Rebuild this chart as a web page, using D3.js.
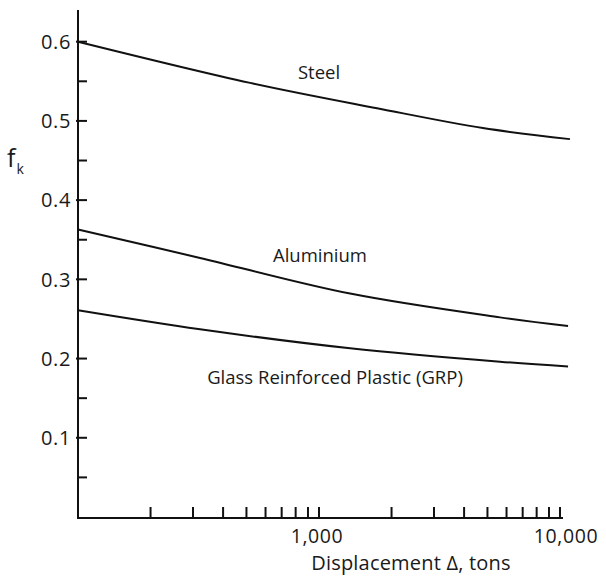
<!DOCTYPE html>
<html>
<head>
<meta charset="utf-8">
<script src="https://cdn.jsdelivr.net/npm/d3@7"></script>
<style>
  body { margin: 0; background: #fff; }
  text, tspan { font-family: "Open Sans", sans-serif; fill: #1a1a1a; }
</style>
</head>
<body>
<div id="chart"></div>
<script>
// displacement (tons)
let steelX = [100, 518, 1741, 4786, 11000];
let steelY = [0.600, 0.548, 0.516, 0.491, 0.477];
let aluX = [100, 321, 1346, 5637, 10800];
let aluY = [0.363, 0.327, 0.282, 0.252, 0.241];
let grpX = [100, 321, 1346, 5637, 10800];
let grpY = [0.261, 0.237, 0.213, 0.196, 0.190];

let yMajor = [0.1, 0.2, 0.3, 0.4, 0.5, 0.6];
let yMinor = [0.05, 0.15, 0.35, 0.45, 0.55];
let xMinor = [200, 300, 400, 500, 600, 700, 800, 900, 1000,
              2000, 3000, 4000, 5000, 6000, 7000, 8000, 9000, 10000];
let xLabels = [1000, 10000];

let width = 606, height = 582;
let svg = d3.select("#chart").append("svg")
    .attr("width", width)
    .attr("height", height);

let x = d3.scaleLog().domain([100, 10000]).range([78, 560]);
let y = d3.scaleLinear().domain([0, 0.64]).range([517, 10]);

//axes lines
svg.append("line")
    .attr("x1", x(100)).attr("x2", x(100))
    .attr("y1", y(0.64)).attr("y2", y(0) + 2)
    .attr("stroke", "#111").attr("stroke-width", 2);
svg.append("line")
    .attr("x1", x(100) - 1).attr("x2", x(10000) + 3)
    .attr("y1", y(0) + 1).attr("y2", y(0) + 1)
    .attr("stroke", "#111").attr("stroke-width", 2);

//y ticks
svg.selectAll(".ymaj").data(yMajor).enter().append("line")
    .attr("x1", x(100) - 2).attr("x2", x(100) + 9)
    .attr("y1", d => y(d)).attr("y2", d => y(d))
    .attr("stroke", "#111").attr("stroke-width", 2);
svg.selectAll(".ymin").data(yMinor).enter().append("line")
    .attr("x1", x(100)).attr("x2", x(100) + 9)
    .attr("y1", d => y(d)).attr("y2", d => y(d))
    .attr("stroke", "#111").attr("stroke-width", 2);
svg.selectAll(".ylab").data(yMajor).enter().append("text")
    .attr("x", x(100) - 7)
    .attr("y", d => y(d))
    .attr("dy", "0.36em")
    .attr("text-anchor", "end")
    .attr("font-size", 20)
    .attr("letter-spacing", 0.6)
    .text(d => d.toFixed(1));

//x ticks pointing up
svg.selectAll(".xmin").data(xMinor).enter().append("line")
    .attr("x1", d => x(d)).attr("x2", d => x(d))
    .attr("y1", y(0) + 1).attr("y2", y(0) - 10)
    .attr("stroke", "#111").attr("stroke-width", 2);
svg.selectAll(".xlab").data(xLabels).enter().append("text")
    .attr("x", (d, i) => x(d) + (i == 1 ? 6 : -2))
    .attr("y", 543)
    .attr("text-anchor", "middle")
    .attr("font-size", 19.5)
    .attr("letter-spacing", 0.6)
    .text(d => d3.format(",")(d));

//axis titles
svg.append("text")
    .attr("x", 411).attr("y", 570)
    .attr("text-anchor", "middle")
    .attr("font-size", 20)
    .attr("letter-spacing", 0.2)
    .text("Displacement \u0394, tons");

let fk = svg.append("text").attr("x", 7).attr("y", 167).attr("font-size", 25);
fk.append("tspan").text("f");
fk.append("tspan").attr("font-size", 14).attr("dy", 7).attr("dx", 1).text("k");

//curves
let line = d3.line()
    .x(d => x(d[0]))
    .y(d => y(d[1]))
    .curve(d3.curveCatmullRom.alpha(0.5));

let series = [
    {name: "Steel", xs: steelX, ys: steelY, lx: 319, ly: 79},
    {name: "Aluminium", xs: aluX, ys: aluY, lx: 320, ly: 262},
    {name: "Glass Reinforced Plastic (GRP)", xs: grpX, ys: grpY, lx: 335, ly: 384}
];

series.forEach(s => {
    svg.append("path")
        .datum(d3.zip(s.xs, s.ys))
        .attr("d", line)
        .attr("fill", "none")
        .attr("stroke", "#111")
        .attr("stroke-width", 2);
    svg.append("text")
        .attr("x", s.lx).attr("y", s.ly)
        .attr("text-anchor", "middle")
        .attr("font-size", 18.5)
        .text(s.name);
});
</script>
</body>
</html>
